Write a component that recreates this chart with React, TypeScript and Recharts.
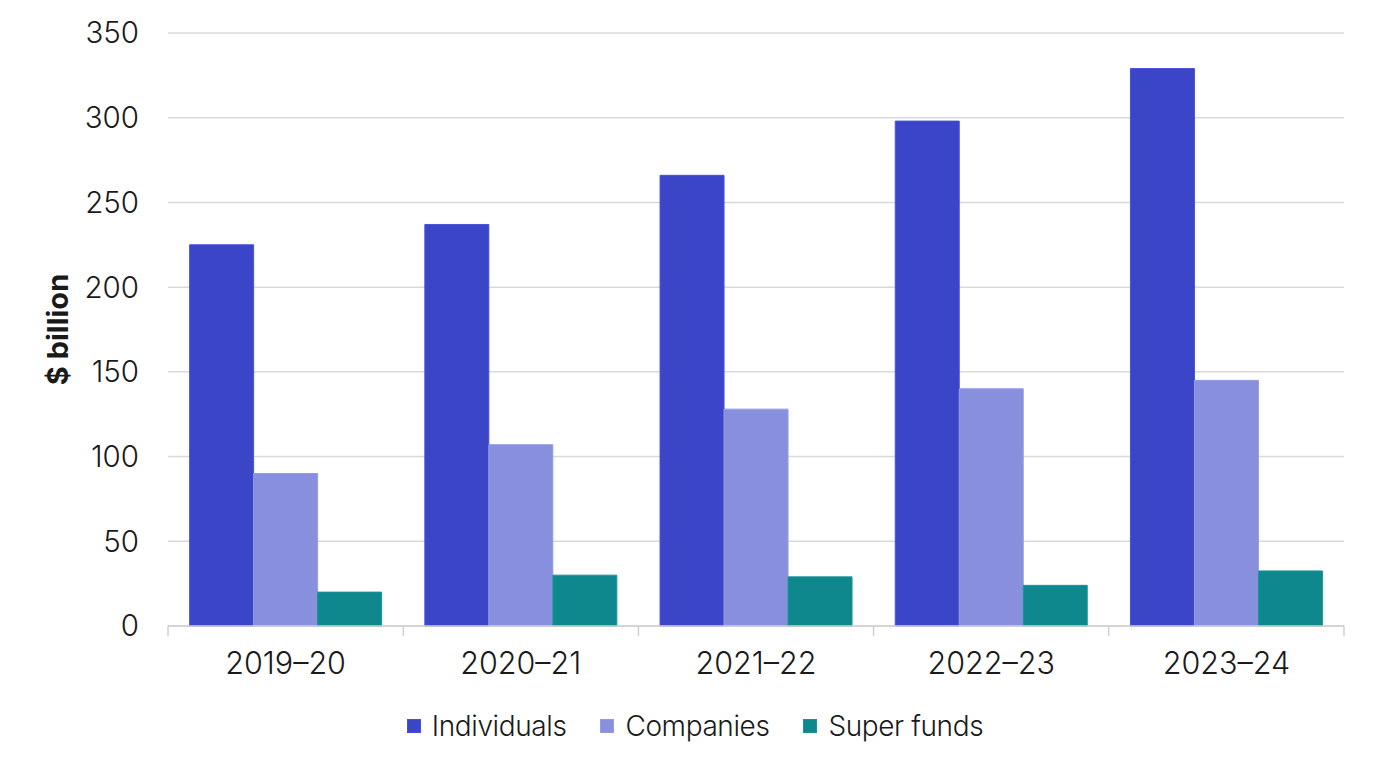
import { BarChart, Bar, XAxis, YAxis, CartesianGrid, Legend } from 'recharts';

const years = ['2019–20', '2020–21', '2021–22', '2022–23', '2023–24'];
const individuals = [225, 237, 266, 298, 329];
const companies = [90, 107, 128, 140, 145];
const superFunds = [20, 30, 29, 24, 32.5];
const yTicks = [0, 50, 100, 150, 200, 250, 300, 350];

const series = [
  { key: 'individuals', name: 'Individuals', fill: '#3A45C8', stroke: '#4652DA' },
  { key: 'companies', name: 'Companies', fill: '#8890DE', stroke: '#949CE6' },
  { key: 'superFunds', name: 'Super funds', fill: '#0E888C', stroke: '#1A9498' },
];

const data = years.map((year, i) => ({
  year,
  individuals: individuals[i],
  companies: companies[i],
  superFunds: superFunds[i],
}));

const WIDTH = 1378;
const HEIGHT = 775;
const MARGIN = { top: 33, right: 34, bottom: 19, left: 0 };
const Y_AXIS_WIDTH = 168;
const BAND = (WIDTH - MARGIN.left - MARGIN.right - Y_AXIS_WIDTH) / years.length;
const FONT = 'Inter, "Noto Sans", sans-serif';
const TEXT = '#1A1A1A';
const AXIS_COLOR = '#D0D0D0';

// category label plus the small separator ticks at each band edge
const YearTick = ({ x, y, payload, index }: any) => {
  const left = x - BAND / 2;
  const right = x + BAND / 2;
  return (
    <g>
      <line x1={left} y1={y} x2={left} y2={y + 10} stroke={AXIS_COLOR} strokeWidth={1.5} />
      {index === years.length - 1 && (
        <line x1={right} y1={y} x2={right} y2={y + 10} stroke={AXIS_COLOR} strokeWidth={1.5} />
      )}
      <text x={x} y={y + 37} dy="0.36em" textAnchor="middle" fill={TEXT} fontSize={30.5} fontWeight={300} fontFamily={FONT}>
        {payload.value}
      </text>
    </g>
  );
};

const YLabel = ({ viewBox }: any) => {
  const cx = viewBox.x + 57;
  const cy = viewBox.y + viewBox.height / 2;
  return (
    <text
      x={cx}
      y={cy}
      transform={`rotate(-90, ${cx}, ${cy})`}
      textAnchor="middle"
      dominantBaseline="central"
      fontSize={29}
      fontWeight={700}
      fontFamily={FONT}
      fill={TEXT}
    >
      $ billion
    </text>
  );
};

const LegendContent = () => (
  <div style={{ display: 'flex', justifyContent: 'center', alignItems: 'center', height: 60, paddingLeft: 46, fontFamily: FONT }}>
    {series.map((s) => (
      <div key={s.key} style={{ display: 'flex', alignItems: 'center', margin: '0 17px' }}>
        <span style={{ width: 14, height: 14, background: s.fill, border: `1px solid ${s.stroke}`, boxSizing: 'border-box', marginRight: 11 }} />
        <span style={{ fontSize: 28, fontWeight: 300, color: TEXT, letterSpacing: -0.4 }}>{s.name}</span>
      </div>
    ))}
  </div>
);

export default function App() {
  return (
    <div style={{ position: 'absolute', left: 0, top: 0, background: '#fff' }}>
      <BarChart width={WIDTH} height={HEIGHT} data={data} margin={MARGIN} barCategoryGap="9.2%" barGap={0}>
        <CartesianGrid vertical={false} stroke="#D9D9D9" strokeWidth={1.5} />
        <XAxis
          dataKey="year"
          height={70}
          tickSize={0}
          tickMargin={0}
          tickLine={false}
          axisLine={{ stroke: AXIS_COLOR, strokeWidth: 1.5 }}
          tick={<YearTick />}
          interval={0}
        />
        <YAxis
          width={Y_AXIS_WIDTH}
          domain={[0, 350]}
          ticks={yTicks}
          axisLine={false}
          tickLine={false}
          tickMargin={23}
          tick={{ fill: TEXT, fontSize: 29.5, fontWeight: 300, fontFamily: FONT }}
          label={<YLabel />}
        />
        <Legend verticalAlign="bottom" height={60} content={<LegendContent />} />
        {series.map((s) => (
          <Bar
            key={s.key}
            dataKey={s.key}
            name={s.name}
            fill={s.fill}
            stroke={s.stroke}
            strokeWidth={1}
            isAnimationActive={false}
          />
        ))}
      </BarChart>
    </div>
  );
}
